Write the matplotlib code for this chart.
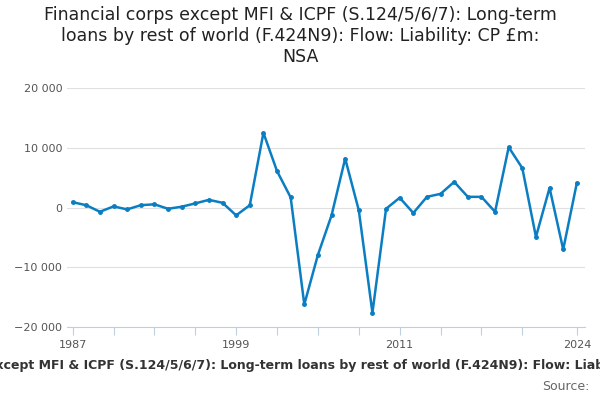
import matplotlib.pyplot as plt

years = list(range(1987, 2025))
values = [900, 400, -700, 200, -300, 400, 550, -200, 150, 700, 1300, 800,
          -1300, 400, 12500, 6100, 1700, -16200, -7900, -1300, 8200, -450,
          -17600, -200, 1650, -900, 1800, 2300, 4300, 1800, 1800, -700,
          10100, 6600, -4900, 3300, -7000, 4100]
tick_years = list(range(1987, 2021, 3)) + [2024]
label_years = [1987, 1999, 2011, 2024]
title = "Financial corps except MFI & ICPF (S.124/5/6/7): Long-term\nloans by rest of world (F.424N9): Flow: Liability: CP £m:\nNSA"
footer = "Financial corps except MFI & ICPF (S.124/5/6/7): Long-term loans by rest of world (F.424N9): Flow: Liability: CP £m: NSA"

fig = plt.figure(figsize=(6, 4), dpi=100)
ax = fig.add_axes([0.112, 0.182, 0.863, 0.598])
ax.plot(years, values, color="#0b7ec3", lw=1.8, marker="o", ms=2.5)
ax.set_ylim(-20000, 20000)
ax.set_xlim(1986.6, 2024.6)
ax.set_yticks([-20000, -10000, 0, 10000, 20000])
ax.set_yticklabels([f"{v:,}".replace(",", " ").replace("-", "\u2212") for v in [-20000, -10000, 0, 10000, 20000]],
                   fontsize=8, color="#555555")
ax.set_xticks(tick_years)
ax.set_xticklabels([str(y) if y in label_years else "" for y in tick_years], fontsize=8, color="#555555")
ax.grid(axis="y", color="#e0e0e0", lw=0.8)
ax.set_axisbelow(True)
for s in ["top", "right", "left"]:
    ax.spines[s].set_visible(False)
ax.spines["bottom"].set_color("#c0cfe0")
ax.tick_params(axis="x", color="#c0cfe0", length=6)
ax.tick_params(axis="y", length=0)

fig.text(0.5, 0.985, title, ha="center", va="top", fontsize=12.5, color="#222222")
fig.text(0.5, 0.085, footer, ha="center", va="center", fontsize=9, fontweight="bold", color="#333333")
fig.text(0.982, 0.035, "Source:", ha="right", va="center", fontsize=9, color="#666666")
fig.savefig("out.png")
